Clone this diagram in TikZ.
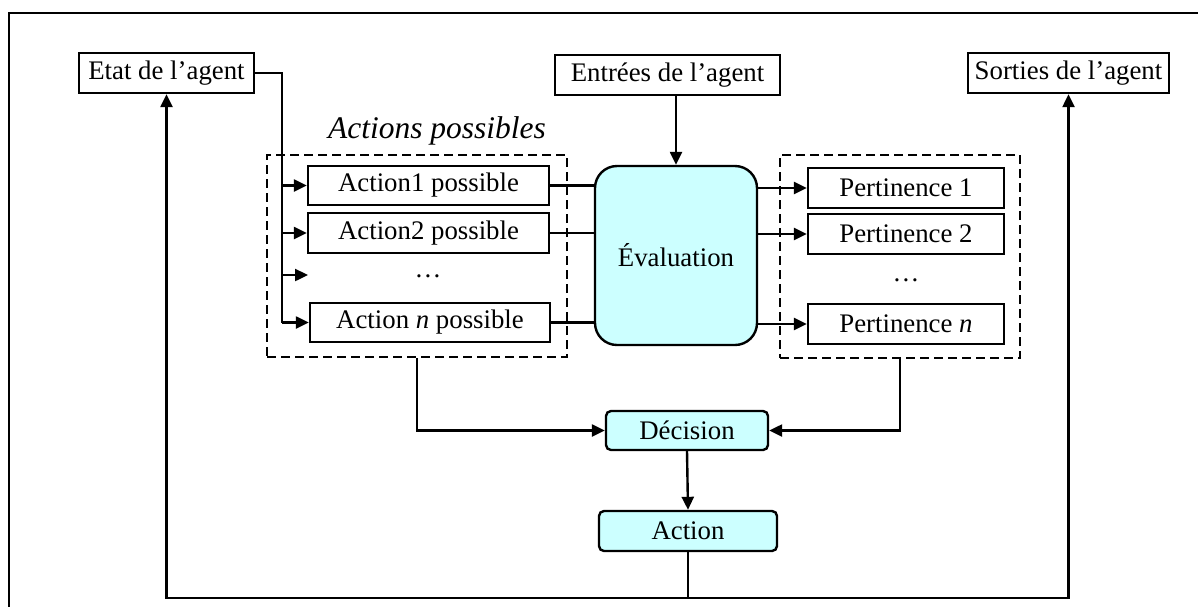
\documentclass[tikz,border=0pt]{standalone}
\usepackage{fontspec}
\setmainfont{Liberation Serif}
\usetikzlibrary{arrows.meta}
\definecolor{cyanfill}{HTML}{CCFFFF}
\begin{document}
\begin{tikzpicture}[x=1pt,y=-1pt,
  box/.style={draw,line width=2.4pt,rectangle,inner sep=0pt,font=\fontsize{26.8}{30}\selectfont},
  rbox/.style={box,fill=cyanfill,rounded corners=5pt},
  dbox/.style={draw,line width=2.2pt,dash pattern=on 9pt off 5pt,rectangle,inner sep=0pt},
  conn/.style={line width=2.4pt},
  arr/.style={conn,-{Triangle[length=13pt,width=12pt]}},
  txt/.style={font=\fontsize{26.8}{30}\selectfont,inner sep=0pt}]
\useasboundingbox (0,0) rectangle (1198,606);
\draw[line width=2.4pt] (9,608) -- (9,13) -- (1200,13);

\node[box,minimum width=175pt,minimum height=40pt] (etat) at (166.5,73) {Etat de l'agent};
\node[box,minimum width=225pt,minimum height=40pt] (entrees) at (667.5,75) {Entrées de l'agent};
\node[box,minimum width=201pt,minimum height=40pt] (sorties) at (1068.5,73) {Sorties de l'agent};

\node[dbox,minimum width=300pt,minimum height=202pt] (dashA) at (417,256) {};
\node[dbox,minimum width=240pt,minimum height=203pt] (dashP) at (900,256.5) {};
\node[txt,font=\fontsize{31.5}{34}\selectfont\itshape] (lblA) at (437,131) {Actions possibles};

\node[box,minimum width=241pt,minimum height=39pt] (a1) at (428.5,185.5) {Action1 possible};
\node[box,minimum width=241pt,minimum height=40pt] (a2) at (428.5,233) {Action2 possible};
\node[txt,anchor=base] (adots) at (428,277) {\dots};
\node[box,minimum width=240pt,minimum height=39pt] (an) at (430,322.5) {Action \textit{n} possible};

\node[box,fill=cyanfill,rounded corners=22pt,minimum width=162pt,minimum height=179pt] (eval) at (676,255.5) {Évaluation};

\node[box,minimum width=196pt,minimum height=40pt] (p1) at (906,188) {Pertinence 1};
\node[box,minimum width=196pt,minimum height=40pt] (p2) at (906,234) {Pertinence 2};
\node[txt,anchor=base] (pdots) at (906,281) {\dots};
\node[box,minimum width=196pt,minimum height=40pt] (pn) at (906,324) {Pertinence \textit{n}};

\node[rbox,minimum width=162pt,minimum height=39pt] (dec) at (687,430.5) {Décision};
\node[rbox,minimum width=178pt,minimum height=40pt] (act) at (688,531) {Action};

\coordinate (trunk) at (282,322.5);
\coordinate (dotsin) at (308,275);
\coordinate (bot) at (688,598);

% state to possible actions
\draw[conn] (etat.east) -| (trunk);
\draw[arr] (trunk) -- (an.west);
\draw[arr] (a1.west -| trunk) -- (a1.west);
\draw[arr] (a2.west -| trunk) -- (a2.west);
\draw[arr] (dotsin -| trunk) -- (dotsin);

% actions to evaluation
\draw[conn] (a1.east) -- (a1.east -| eval.west);
\draw[conn] (a2.east) -- (a2.east -| eval.west);
\draw[conn] (an.east) -- (an.east -| eval.west);

% inputs to evaluation
\draw[arr] (eval.north |- entrees.south) -- (eval.north);

% evaluation to pertinences
\draw[arr] (p1.west -| eval.east) -- (p1.west);
\draw[arr] (p2.west -| eval.east) -- (p2.west);
\draw[arr] (pn.west -| eval.east) -- (pn.west);

% to decision
\draw[arr] (dashA.south) |- (dec.west);
\draw[arr] (dashP.south) |- (dec.east);
\draw[arr] (dec.south) -- (act.north);

% action to outputs and state
\draw[conn] (act.south) -- (bot);
\draw[arr] (bot) -| (etat.south);
\draw[arr] (bot) -| (sorties.south);
\end{tikzpicture}
\end{document}
